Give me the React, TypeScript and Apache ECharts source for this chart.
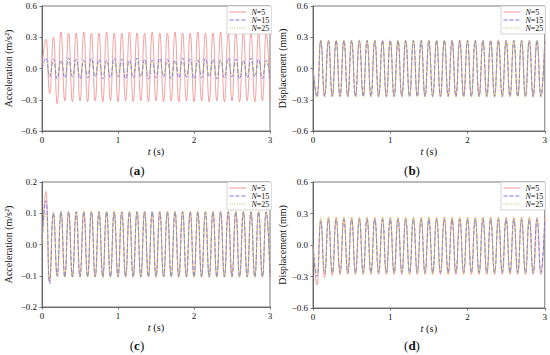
import React, { useEffect, useRef } from "react";
import * as echarts from "echarts";

// sampling times (s): one extremum every 0.05 s (≈10 Hz response)
const T = [0,0.05,0.1,0.15,0.2,0.25,0.3,0.35,0.4,0.45,0.5,0.55,0.6,0.65,0.7,0.75,0.8,0.85,0.9,0.95,1,1.05,1.1,1.15,1.2,1.25,1.3,1.35,1.4,1.45,1.5,1.55,1.6,1.65,1.7,1.75,1.8,1.85,1.9,1.95,2,2.05,2.1,2.15,2.2,2.25,2.3,2.35,2.4,2.45,2.5,2.55,2.6,2.65,2.7,2.75,2.8,2.85,2.9,2.95,3];

const NAMES = ["N=5", "N=15", "N=25"];
const X_TICKS = [0, 1, 2, 3];

// (a) acceleration
const accA_N5 = [0.02,0.28,-0.24,0.3,-0.34,0.35,-0.31,0.34,-0.32,0.34,-0.31,0.35,-0.32,0.34,-0.31,0.34,-0.32,0.35,-0.31,0.34,-0.32,0.34,-0.31,0.35,-0.32,0.34,-0.31,0.34,-0.32,0.35,-0.31,0.34,-0.32,0.34,-0.31,0.35,-0.32,0.34,-0.31,0.34,-0.32,0.35,-0.31,0.34,-0.32,0.34,-0.31,0.35,-0.32,0.34,-0.31,0.34,-0.32,0.35,-0.31,0.34,-0.32,0.34,-0.31,0.34,-0.32];
const accA_N15 = [0,0.1,-0.08,0.09,-0.1,0.08,-0.09,0.1,-0.08,0.09,-0.1,0.08,-0.09,0.1,-0.08,0.09,-0.1,0.08,-0.09,0.1,-0.08,0.09,-0.1,0.08,-0.09,0.1,-0.08,0.09,-0.1,0.08,-0.09,0.1,-0.08,0.09,-0.1,0.08,-0.09,0.1,-0.08,0.09,-0.1,0.08,-0.09,0.1,-0.08,0.09,-0.1,0.08,-0.09,0.1,-0.08,0.09,-0.1,0.08,-0.09,0.1,-0.08,0.09,-0.1,0.08,-0.09];
const accA_N25 = [0,0.06,-0.06,0.05,-0.06,0.06,-0.05,0.06,-0.06,0.05,-0.06,0.06,-0.05,0.06,-0.06,0.05,-0.06,0.06,-0.05,0.06,-0.06,0.05,-0.06,0.06,-0.05,0.06,-0.06,0.05,-0.06,0.06,-0.05,0.06,-0.06,0.05,-0.06,0.06,-0.05,0.06,-0.06,0.05,-0.06,0.06,-0.05,0.06,-0.06,0.05,-0.06,0.06,-0.05,0.06,-0.06,0.05,-0.06,0.06,-0.05,0.06,-0.06,0.05,-0.06,0.06,-0.05];

// (b) displacement
const dispB_N5 = [0,-0.265,0.265,-0.265,0.265,-0.265,0.265,-0.265,0.265,-0.265,0.265,-0.265,0.265,-0.265,0.265,-0.265,0.265,-0.265,0.265,-0.265,0.265,-0.265,0.265,-0.265,0.265,-0.265,0.265,-0.265,0.265,-0.265,0.265,-0.265,0.265,-0.265,0.265,-0.265,0.265,-0.265,0.265,-0.265,0.265,-0.265,0.265,-0.265,0.265,-0.265,0.265,-0.265,0.265,-0.265,0.265,-0.265,0.265,-0.265,0.265,-0.265,0.265,-0.265,0.265,-0.265,0.265];
const dispB_N15 = [0,-0.27,0.27,-0.27,0.27,-0.27,0.27,-0.27,0.27,-0.27,0.27,-0.27,0.27,-0.27,0.27,-0.27,0.27,-0.27,0.27,-0.27,0.27,-0.27,0.27,-0.27,0.27,-0.27,0.27,-0.27,0.27,-0.27,0.27,-0.27,0.27,-0.27,0.27,-0.27,0.27,-0.27,0.27,-0.27,0.27,-0.27,0.27,-0.27,0.27,-0.27,0.27,-0.27,0.27,-0.27,0.27,-0.27,0.27,-0.27,0.27,-0.27,0.27,-0.27,0.27,-0.27,0.27];
const dispB_N25 = [0,-0.275,0.275,-0.275,0.275,-0.275,0.275,-0.275,0.275,-0.275,0.275,-0.275,0.275,-0.275,0.275,-0.275,0.275,-0.275,0.275,-0.275,0.275,-0.275,0.275,-0.275,0.275,-0.275,0.275,-0.275,0.275,-0.275,0.275,-0.275,0.275,-0.275,0.275,-0.275,0.275,-0.275,0.275,-0.275,0.275,-0.275,0.275,-0.275,0.275,-0.275,0.275,-0.275,0.275,-0.275,0.275,-0.275,0.275,-0.275,0.275,-0.275,0.275,-0.275,0.275,-0.275,0.275];

// (c) acceleration
const accC_N5 = [0,0.17,-0.12,0.1,-0.1,0.105,-0.103,0.105,-0.103,0.105,-0.103,0.105,-0.103,0.105,-0.103,0.105,-0.103,0.105,-0.103,0.105,-0.103,0.105,-0.103,0.105,-0.103,0.105,-0.103,0.105,-0.103,0.105,-0.103,0.105,-0.103,0.105,-0.103,0.105,-0.103,0.105,-0.103,0.105,-0.103,0.105,-0.103,0.105,-0.103,0.105,-0.103,0.105,-0.103,0.105,-0.103,0.105,-0.103,0.105,-0.103,0.105,-0.103,0.105,-0.103,0.105,-0.103];
const accC_N15 = [0.02,0.14,-0.125,0.1,-0.1,0.104,-0.103,0.104,-0.103,0.104,-0.103,0.104,-0.103,0.104,-0.103,0.104,-0.103,0.104,-0.103,0.104,-0.103,0.104,-0.103,0.104,-0.103,0.104,-0.103,0.104,-0.103,0.104,-0.103,0.104,-0.103,0.104,-0.103,0.104,-0.103,0.104,-0.103,0.104,-0.103,0.104,-0.103,0.104,-0.103,0.104,-0.103,0.104,-0.103,0.104,-0.103,0.104,-0.103,0.104,-0.103,0.104,-0.103,0.104,-0.103,0.104,-0.103];
const accC_N25 = [0,0.1,-0.11,0.105,-0.106,0.107,-0.106,0.107,-0.106,0.107,-0.106,0.107,-0.106,0.107,-0.106,0.107,-0.106,0.107,-0.106,0.107,-0.106,0.107,-0.106,0.107,-0.106,0.107,-0.106,0.107,-0.106,0.107,-0.106,0.107,-0.106,0.107,-0.106,0.107,-0.106,0.107,-0.106,0.107,-0.106,0.107,-0.106,0.107,-0.106,0.107,-0.106,0.107,-0.106,0.107,-0.106,0.107,-0.106,0.107,-0.106,0.107,-0.106,0.107,-0.106,0.107,-0.106];

// (d) displacement
const dispD_N5 = [0,-0.38,0.24,-0.31,0.26,-0.29,0.26,-0.28,0.26,-0.28,0.26,-0.28,0.26,-0.28,0.26,-0.28,0.26,-0.28,0.26,-0.28,0.26,-0.28,0.26,-0.28,0.26,-0.28,0.26,-0.28,0.26,-0.28,0.26,-0.28,0.26,-0.28,0.26,-0.28,0.26,-0.28,0.26,-0.28,0.26,-0.28,0.26,-0.28,0.26,-0.28,0.26,-0.28,0.26,-0.28,0.26,-0.28,0.26,-0.28,0.26,-0.28,0.26,-0.28,0.26,-0.28,0.26];
const dispD_N15 = [0,-0.3,0.22,-0.27,0.24,-0.26,0.24,-0.26,0.24,-0.26,0.24,-0.26,0.24,-0.26,0.24,-0.26,0.24,-0.26,0.24,-0.26,0.24,-0.26,0.24,-0.26,0.24,-0.26,0.24,-0.26,0.24,-0.26,0.24,-0.26,0.24,-0.26,0.24,-0.26,0.24,-0.26,0.24,-0.26,0.24,-0.26,0.24,-0.26,0.24,-0.26,0.24,-0.26,0.24,-0.26,0.24,-0.26,0.24,-0.26,0.24,-0.26,0.24,-0.26,0.24,-0.26,0.24];
const dispD_N25 = [0,-0.27,0.27,-0.27,0.27,-0.27,0.27,-0.27,0.27,-0.27,0.27,-0.27,0.27,-0.27,0.27,-0.27,0.27,-0.27,0.27,-0.27,0.27,-0.27,0.27,-0.27,0.27,-0.27,0.27,-0.27,0.27,-0.27,0.27,-0.27,0.27,-0.27,0.27,-0.27,0.27,-0.27,0.27,-0.27,0.27,-0.27,0.27,-0.27,0.27,-0.27,0.27,-0.27,0.27,-0.27,0.27,-0.27,0.27,-0.27,0.27,-0.27,0.27,-0.27,0.27];

const PANELS = [
  { label: "a", yName: "Acceleration (m/s²)", yMin: -0.6, yMax: 0.6, yInt: 0.3, data: [accA_N5, accA_N15, accA_N25] },
  { label: "b", yName: "Displacement (mm)", yMin: -0.6, yMax: 0.6, yInt: 0.3, data: [dispB_N5, dispB_N15, dispB_N25] },
  { label: "c", yName: "Acceleration (m/s²)", yMin: -0.2, yMax: 0.2, yInt: 0.1, data: [accC_N5, accC_N15, accC_N25] },
  { label: "d", yName: "Displacement (mm)", yMin: -0.6, yMax: 0.6, yInt: 0.3, data: [dispD_N5, dispD_N15, dispD_N25] },
];

const FONT = "Liberation Serif";
const COLORS = ["#f08a8a", "#6b6be0", "#a9c63a"];
const DASHES: any[] = ["solid", [4, 2], [1, 1.5]];

const GRIDS = [
  { left: 42, top: 6, width: 228, height: 125 },
  { left: 313, top: 6, width: 233, height: 125 },
  { left: 42, top: 182, width: 228, height: 125 },
  { left: 313, top: 182, width: 233, height: 126 },
];
const LEGEND_POS = [
  { left: 227, top: 6 },
  { left: 501, top: 6 },
  { left: 227, top: 182 },
  { left: 501, top: 182 },
];
const LABEL_POS = [
  { x: 137, y: 170 },
  { x: 412, y: 170 },
  { x: 137, y: 345 },
  { x: 412, y: 345 },
];

const fmtY = (v: number) => {
  if (Math.abs(v) < 1e-9) return "0.0";
  return (v < 0 ? "−" : "") + Math.abs(v).toFixed(1);
};

export default function App() {
  const ref = useRef<HTMLDivElement>(null);
  useEffect(() => {
    document.body.style.margin = "0";
    if (!ref.current) return;
    const chart = echarts.init(ref.current, undefined, { renderer: "svg" });
    const axisColor = "#555";
    const xAxis = PANELS.map((_, p) => ({
      type: "value",
      gridIndex: p,
      min: 0,
      max: 3,
      interval: 1,
      name: "{i|t} (s)",
      nameLocation: "middle",
      nameGap: 15,
      nameTextStyle: {
        fontFamily: FONT,
        fontSize: 10.5,
        color: "#111",
        rich: { i: { fontStyle: "italic", fontFamily: FONT, fontSize: 10.5, color: "#111" } },
      },
      axisLine: { show: true, onZero: false, lineStyle: { color: axisColor, width: 0.8 } },
      axisTick: { show: true, length: 2.5, inside: false, lineStyle: { color: axisColor, width: 0.8 } },
      axisLabel: {
        fontFamily: FONT,
        fontSize: 9,
        color: "#111",
        margin: 4,
        formatter: (v: number) => (X_TICKS.includes(v) ? String(v) : ""),
      },
      splitLine: { show: false },
    }));
    const yAxis = PANELS.map((pn, p) => ({
      type: "value",
      gridIndex: p,
      min: pn.yMin,
      max: pn.yMax,
      interval: pn.yInt,
      name: pn.yName,
      nameLocation: "middle",
      nameGap: p % 2 === 0 ? 29 : 26,
      nameTextStyle: { fontFamily: FONT, fontSize: 10, color: "#111" },
      axisLine: { show: true, onZero: false, lineStyle: { color: axisColor, width: 0.8 } },
      axisTick: { show: true, length: 2.5, lineStyle: { color: axisColor, width: 0.8 } },
      axisLabel: { fontFamily: FONT, fontSize: 9, color: "#111", margin: 5, formatter: fmtY },
      splitLine: { show: false },
    }));
    const series: any[] = [];
    PANELS.forEach((pn, p) => {
      pn.data.forEach((vals, n) => {
        series.push({
          type: "line",
          name: NAMES[n],
          xAxisIndex: p,
          yAxisIndex: p,
          data: T.map((t, i) => [t, vals[i]]),
          smooth: true,
          symbol: "circle",
          symbolSize: 0,
          showSymbol: false,
          clip: true,
          color: COLORS[n],
          lineStyle: { width: 0.8, color: COLORS[n], type: DASHES[n] },
          itemStyle: { color: COLORS[n] },
          emphasis: { disabled: true },
        });
      });
    });
    const legend = LEGEND_POS.map((pos) => ({
      ...pos,
      orient: "vertical",
      data: NAMES,
      itemWidth: 17,
      itemHeight: 8,
      itemGap: 0,
      padding: [2, 2, 2, 2],
      borderColor: "#bbb",
      borderWidth: 0.6,
      backgroundColor: "#fff",
      selectedMode: false,
      itemStyle: { opacity: 0, borderWidth: 0 },
      lineStyle: { width: 0.9 },
      formatter: (name: string) => `{i|N}{n|${name.slice(1)}}`,
      textStyle: {
        fontFamily: FONT,
        fontSize: 8,
        color: "#111",
        rich: {
          i: { fontStyle: "italic", fontFamily: FONT, fontSize: 8, color: "#111", lineHeight: 9.5 },
          n: { fontFamily: FONT, fontSize: 8, color: "#111", lineHeight: 9.5 },
        },
      },
    }));
    const graphic = PANELS.map((pn, p) => ({
      type: "text",
      x: LABEL_POS[p].x,
      y: LABEL_POS[p].y,
      style: {
        text: `{p|(}{b|${pn.label}}{p|)}`,
        align: "center",
        verticalAlign: "middle",
        rich: {
          p: { fontFamily: FONT, fontSize: 13, fill: "#111" },
          b: { fontFamily: FONT, fontSize: 13, fontWeight: "bold", fill: "#111" },
        },
      },
    }));
    chart.setOption({
      animation: false,
      backgroundColor: "#fff",
      grid: GRIDS.map((g) => ({ ...g, show: true, borderColor: axisColor, borderWidth: 0.8, backgroundColor: "transparent" })),
      xAxis,
      yAxis,
      legend,
      series,
      graphic,
    });
    return () => chart.dispose();
  }, []);
  return <div ref={ref} style={{ width: 550, height: 355 }} />;
}
